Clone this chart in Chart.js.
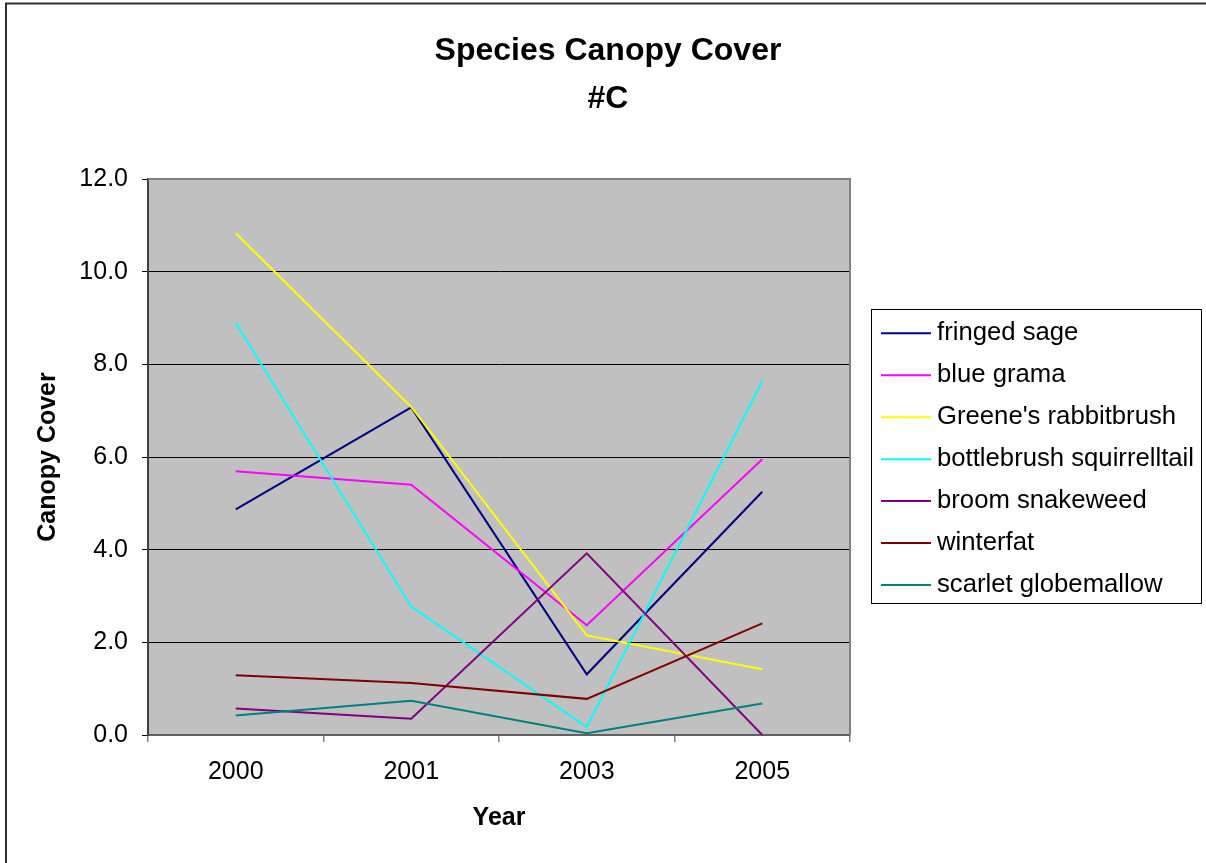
<!DOCTYPE html>
<html>
<head>
<meta charset="utf-8">
<title>Species Canopy Cover #C</title>
<script src="https://cdn.jsdelivr.net/npm/chart.js@4/dist/chart.umd.min.js"></script>
<style>
  html, body { margin: 0; padding: 0; background: #ffffff; }
  canvas { display: block; }
</style>
</head>
<body>
<canvas id="chart" width="1206" height="863"></canvas>
<script>
// Survey years (category axis)
const years = ['2000', '2001', '2003', '2005'];

// Canopy cover per species, one value per survey year
const fringedSage        = [4.87, 7.07, 1.31, 5.25];
const blueGrama          = [5.69, 5.40, 2.37, 5.95];
const greenesRabbitbrush = [10.83, 7.08, 2.15, 1.42];
const bottlebrushSquirrelltail = [8.89, 2.77, 0.17, 7.64];
const broomSnakeweed     = [0.57, 0.35, 3.92, 0.00];
const winterfat          = [1.29, 1.12, 0.78, 2.41];
const scarletGlobemallow = [0.42, 0.74, 0.04, 0.68];

const seriesNames = ['fringed sage', 'blue grama', "Greene's rabbitbrush",
  'bottlebrush squirrelltail', 'broom snakeweed', 'winterfat', 'scarlet globemallow'];
const seriesValues = [fringedSage, blueGrama, greenesRabbitbrush,
  bottlebrushSquirrelltail, broomSnakeweed, winterfat, scarletGlobemallow];
const seriesColors = ['#000080', '#FF00FF', '#FFFF00', '#00FFFF', '#800080', '#800000', '#008080'];

// Value axis
const yMin = 0, yMax = 12, yStep = 2;

const FONT = "'Liberation Sans', Arial, Helvetica, sans-serif";

const datasets = seriesNames.map((name, i) => ({
  label: name,
  data: seriesValues[i],
  borderColor: seriesColors[i],
  backgroundColor: seriesColors[i],
  borderWidth: 2,
  pointRadius: 0,
  pointHoverRadius: 0,
  tension: 0,
  fill: false,
  order: seriesNames.length - i   // later series paint over earlier ones
}));

// Gray plot background and frame
const plotFrame = {
  id: 'plotFrame',
  beforeDraw(chart) {
    const { ctx, chartArea: a } = chart;
    ctx.save();
    ctx.fillStyle = '#C0C0C0';
    ctx.fillRect(a.left, a.top, a.right - a.left, a.bottom - a.top);
    ctx.restore();
  },
  beforeDatasetsDraw(chart) {
    const { ctx, chartArea: a } = chart;
    ctx.save();
    ctx.strokeStyle = '#808080';
    ctx.lineWidth = 2;
    ctx.beginPath();
    ctx.moveTo(a.left, a.top);
    ctx.lineTo(a.right, a.top);
    ctx.lineTo(a.right, a.bottom);
    ctx.stroke();
    ctx.restore();
  }
};

// Chart title, outer frame and boxed legend
const decorations = {
  id: 'decorations',
  afterDraw(chart) {
    const { ctx } = chart;
    ctx.save();

    // outer frame (top and left edges)
    ctx.strokeStyle = '#303030';
    ctx.lineWidth = 2;
    ctx.beginPath();
    ctx.moveTo(6, 900);
    ctx.lineTo(6, 3.5);
    ctx.lineTo(1300, 3.5);
    ctx.stroke();

    // title
    ctx.fillStyle = '#000000';
    ctx.textAlign = 'center';
    ctx.textBaseline = 'alphabetic';
    ctx.font = 'bold 32px ' + FONT;
    ctx.fillText('Species Canopy Cover', 608, 60);
    ctx.fillText('#C', 608, 108);

    // legend
    ctx.strokeStyle = '#000000';
    ctx.lineWidth = 1;
    ctx.strokeRect(871.5, 309.5, 330, 294);
    ctx.textAlign = 'left';
    ctx.font = '25.7px ' + FONT;
    chart.data.datasets.forEach((ds, i) => {
      const y = 333.3 + i * 41.95;
      ctx.strokeStyle = ds.borderColor;
      ctx.lineWidth = 2;
      ctx.beginPath();
      ctx.moveTo(881, y);
      ctx.lineTo(931, y);
      ctx.stroke();
      ctx.fillStyle = '#000000';
      ctx.fillText(ds.label, 937, y + 6.8);
    });
    ctx.restore();
  }
};

new Chart(document.getElementById('chart'), {
  type: 'line',
  data: { labels: years, datasets },
  plugins: [plotFrame, decorations],
  options: {
    responsive: false,
    animation: false,
    devicePixelRatio: 1,
    layout: { padding: { left: 0, top: 179, right: 356, bottom: 18 } },
    plugins: {
      legend: { display: false },
      title: { display: false },
      tooltip: { enabled: false }
    },
    scales: {
      x: {
        type: 'category',
        offset: true,
        afterFit(scale) { scale.height = 110; },
        grid: {
          offset: true,
          drawOnChartArea: false,
          drawTicks: true,
          tickLength: 7,
          color: '#808080',
          tickColor: '#808080',
          lineWidth: 1.5
        },
        border: { display: true, color: '#606060', width: 2 },
        ticks: {
          color: '#000000',
          padding: 15,
          maxRotation: 0,
          font: { family: FONT, size: 25 }
        },
        title: {
          display: true,
          text: 'Year',
          color: '#000000',
          font: { family: FONT, size: 25, weight: 'bold' },
          padding: { top: 0, bottom: 12 }
        }
      },
      y: {
        min: yMin,
        max: yMax,
        afterFit(scale) { scale.width = 148; },
        grid: {
          color: '#000000',
          tickColor: '#000000',
          lineWidth: 1,
          drawTicks: true,
          tickLength: 6
        },
        border: { display: true, color: '#404040', width: 2 },
        ticks: {
          stepSize: yStep,
          color: '#000000',
          padding: 14,
          font: { family: FONT, size: 25 },
          callback: (v) => Number(v).toFixed(1)
        },
        title: {
          display: true,
          text: 'Canopy Cover',
          color: '#000000',
          font: { family: FONT, size: 25, weight: 'bold' },
          padding: { top: 33, bottom: 0 }
        }
      }
    }
  }
});
</script>
</body>
</html>
